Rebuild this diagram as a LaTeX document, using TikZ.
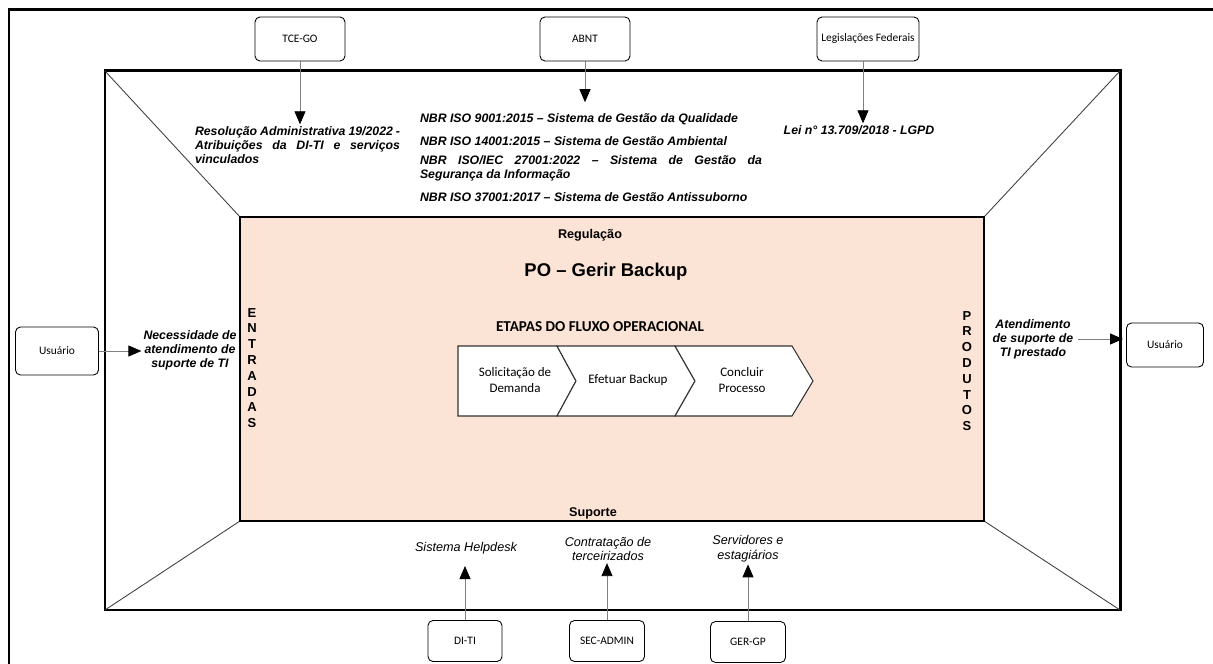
\documentclass[tikz,border=0pt]{standalone}
\usepackage{fontspec}
\setmainfont{Liberation Sans}
\newfontfamily\calibri{Carlito}
\usetikzlibrary{arrows.meta}
\definecolor{pessego}{RGB}{251,228,213}

\tikzset{
  ator/.style={draw, rounded corners=1mm, line width=0.5pt, minimum width=18mm,
    minimum height=8.8mm, inner sep=1pt, font=\calibri\fontsize{6.5}{8}\selectfont},
  norma/.style={font=\bfseries\itshape\fontsize{7}{8}\selectfont, inner sep=1pt},
  apoio/.style={font=\itshape\fontsize{7.2}{8.4}\selectfont, inner sep=1pt, align=center},
  seta/.style={draw=gray, line width=0.5pt, -{Triangle[length=2.6mm,width=2.2mm,color=black]}},
  diag/.style={draw=black!75, line width=0.5pt},
  moldura/.style={line width=1.7pt},
  etapa/.style={draw=black!80, fill=white, line width=0.6pt},
  rotulo/.style={font=\calibri\fontsize{7.4}{9}\selectfont, align=center},
  letras/.style={font=\bfseries\fontsize{7.4}{9}\selectfont, align=center}
}

\begin{document}
\begin{tikzpicture}[x=0.2mm,y=-0.2mm]
\useasboundingbox (0,0) rectangle (1213,664);

% frames
\coordinate (mNW) at (105,71);
\coordinate (mSE) at (1120,610);
\coordinate (iNW) at (240,217);
\coordinate (iSE) at (984,521);
\draw[moldura] (9,680) -- (9,10) -- (1230,10);
\draw[moldura] (mNW) rectangle (mSE);
\draw[diag] (mNW) -- (iNW);
\draw[diag] (mNW -| mSE) -- (iNW -| iSE);
\draw[diag] (mNW |- mSE) -- (iNW |- iSE);
\draw[diag] (mSE) -- (iSE);
\draw[fill=pessego, line width=1.1pt] (iNW) rectangle (iSE);

% top
\node[ator] (tce) at (300,39) {TCE-GO};
\node[ator] (abnt) at (585,39) {ABNT};
\node[ator, minimum width=20.4mm] (leg) at (868,39) {Legislações Federais};

\node[norma, text width=41mm, align=justify] (resol) at (297.5,145)
  {Resolução Administrativa 19/2022 -\linebreak Atribuições da DI-TI e serviços\linebreak vinculados};
\node[norma, text width=68.4mm, align=justify] (nbr1) at (591,119)
  {NBR ISO 9001:2015 \textendash{} Sistema de Gestão da Qualidade};
\node[norma, text width=68.4mm, align=justify] (nbr2) at (591,141)
  {NBR ISO 14001:2015 \textendash{} Sistema de Gestão Ambiental};
\node[norma, text width=68.4mm, align=justify] (nbr3) at (591,168)
  {NBR ISO/IEC 27001:2022 \textendash{} Sistema de Gestão da\linebreak Segurança da Informação};
\node[norma, text width=68.4mm, align=justify] (nbr4) at (591,197)
  {NBR ISO 37001:2017 \textendash{} Sistema de Gestão Antissuborno};
\node[norma] (lei) at (859,130) {Lei n° 13.709/2018 - LGPD};

\draw[seta] (tce.south) -- (tce.south |- resol.north);
\draw[seta, shorten >=1.8mm] (abnt.south) -- (abnt.south |- nbr1.north);
\draw[seta] ([xshift=-1mm]leg.south) -- ([xshift=-1mm]leg.south |- lei.north);

% process
\node[font=\bfseries\fontsize{7.2}{9}\selectfont] (reg) at (590,235) {Regulação};
\node[font=\bfseries\fontsize{10.5}{12}\selectfont] (po) at (606,272) {PO \textendash{} Gerir Backup};
\node[font=\calibri\bfseries\fontsize{8.6}{10}\selectfont] (etapas) at (600,327) {ETAPAS DO FLUXO OPERACIONAL};
\node[font=\bfseries\fontsize{7.2}{9}\selectfont] (sup) at (593,513) {Suporte};

\draw[etapa] (458,346) -- (557,346) -- (576,381) -- (557,416) -- (458,416) -- cycle;
\draw[etapa] (557,346) -- (675,346) -- (695,381) -- (675,416) -- (557,416) -- (576,381) -- cycle;
\draw[etapa] (675,346) -- (792,346) -- (813,381) -- (792,416) -- (675,416) -- (695,381) -- cycle;
\node[rotulo] (sol) at (515,380) {Solicitação de\\Demanda};
\node[rotulo] (efe) at (628,380) {Efetuar Backup};
\node[rotulo] (con) at (742,380) {Concluir\\Processo};

\node[letras] (ent) at (252,368) {E\\N\\T\\R\\A\\D\\A\\S};
\node[letras] (prod) at (967,371) {P\\R\\O\\D\\U\\T\\O\\S};

% sides
\node[ator, minimum width=16.6mm, minimum height=9.6mm] (usr1) at (57,351) {Usuário};
\node[norma, align=center] (nec) at (190,350) {Necessidade de\\atendimento de\\suporte de TI};
\draw[seta] (usr1.east) -- (usr1.east -| nec.west);

\node[ator, minimum width=15.4mm] (usr2) at (1165,345) {Usuário};
\node[norma, align=center] (aten) at (1033,339) {Atendimento\\de suporte de\\TI prestado};
\draw[seta] ([xshift=0.6mm]aten.east) -- ([xshift=0.6mm]aten.east -| mSE);

% bottom
\node[ator, minimum width=14.8mm, minimum height=8.2mm] (diti) at (465,641) {DI-TI};
\node[ator, minimum width=15mm, minimum height=8.2mm] (sec) at (607,641) {SEC-ADMIN};
\node[ator, minimum width=15mm, minimum height=8.2mm] (gergp) at (748,642) {GER-GP};

\node[apoio] (help) at (466,548) {Sistema Helpdesk};
\node[apoio] (terc) at (608,549) {Contratação de\\terceirizados};
\node[apoio] (serv) at (748,549) {Servidores e\\estagiários};

\draw[seta, shorten >=2mm] (diti.north) -- (diti.north |- help.south);
\draw[seta] (sec.north) -- (sec.north |- terc.south);
\draw[seta] (gergp.north) -- (gergp.north |- serv.south);
\end{tikzpicture}
\end{document}
